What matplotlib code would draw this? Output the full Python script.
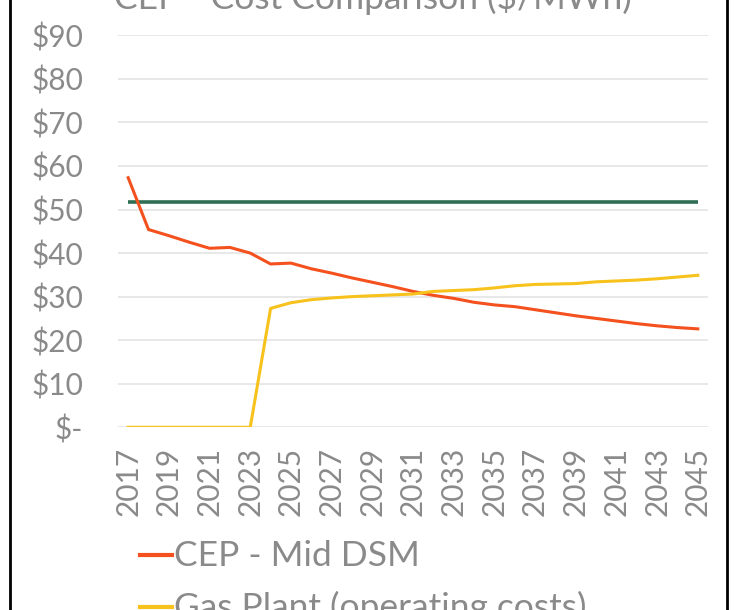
import matplotlib
matplotlib.use("Agg")
import matplotlib.pyplot as plt
from matplotlib.lines import Line2D
import numpy as np

years = list(range(2017, 2046))
tick_years = [str(y) for y in range(2017, 2046, 2)]
cep_mid_dsm = [57.3, 45.4, 44.0, 42.5, 41.1, 41.3, 40.0, 37.5, 37.7, 36.4,
               35.4, 34.3, 33.3, 32.3, 31.2, 30.3, 29.6, 28.7, 28.1, 27.7,
               27.0, 26.3, 25.6, 25.0, 24.4, 23.8, 23.3, 22.9, 22.6]
gas_operating = [0, 0, 0, 0, 0, 0, 0, 27.3, 28.6, 29.3,
                 29.7, 30.0, 30.2, 30.4, 30.6, 31.2, 31.4, 31.6, 32.0, 32.5,
                 32.8, 32.9, 33.0, 33.4, 33.6, 33.8, 34.1, 34.5, 34.9]
gas_total = [51.8] * len(years)
y_ticks = [0, 10, 20, 30, 40, 50, 60, 70, 80, 90]
y_labels = ["$-", "$10", "$20", "$30", "$40", "$50", "$60", "$70", "$80", "$90"]
title = "CEP - Cost Comparison ($/MWh)"
legend_labels = ["CEP - Mid DSM", "Gas Plant (operating costs)"]

plt.rcParams['font.family'] = ['Lato', 'DejaVu Sans']
grey = '#8a8a8a'
c_red = '#f4511e'
c_yel = '#f7c21c'
c_grn = '#2f6e55'

W, H = 740, 610
fig = plt.figure(figsize=(W / 100, H / 100), dpi=100)
fig.patch.set_facecolor('white')
ax = fig.add_axes([118 / W, (H - 427.3) / H, 590 / W, (427.3 - 35.3) / H])

x = np.arange(len(years))
ax.plot(x, gas_total, color=c_grn, lw=2.6, solid_capstyle='butt')
l1, = ax.plot(x, cep_mid_dsm, color=c_red, lw=2.2, solid_joinstyle='round')
l2, = ax.plot(x, gas_operating, color=c_yel, lw=2.2, solid_joinstyle='round')

ax.set_xlim(-0.5, len(years) - 0.5)
ax.set_ylim(0, 90)
ax.set_yticks(y_ticks)
ax.set_yticklabels(y_labels)
ax.set_xticks(x[::2])
ax.set_xticklabels(tick_years, rotation=90)
ax.tick_params(axis='both', length=0, labelcolor=grey, labelsize=21.5)
ax.tick_params(axis='y', pad=25)
ax.tick_params(axis='x', pad=14)
ax.grid(axis='y', color='#e6e6e6', lw=1.3)
ax.set_axisbelow(True)
for s in ax.spines.values():
    s.set_visible(False)

fig.text(373 / W, 1 - 9 / H, title, ha='center', va='baseline',
         fontsize=25.5, color=grey)

# legend (entries stacked vertically below the axis labels)
leg_y = [555, 607]
for line, lab, yy in zip([l1, l2], legend_labels, leg_y):
    fig.add_artist(Line2D([140 / W, 172 / W], [1 - yy / H, 1 - yy / H],
                          color=line.get_color(), lw=3,
                          transform=fig.transFigure))
    fig.text(174 / W, 1 - (yy + 11) / H, lab, ha='left', va='baseline',
             fontsize=25.5, color=grey)

fig.add_artist(Line2D([10 / W, 10 / W], [0, 1], color='black', lw=2,
                      transform=fig.transFigure))
fig.add_artist(Line2D([727 / W, 727 / W], [0, 1], color='black', lw=2,
                      transform=fig.transFigure))

fig.savefig('out.png', dpi=100)
